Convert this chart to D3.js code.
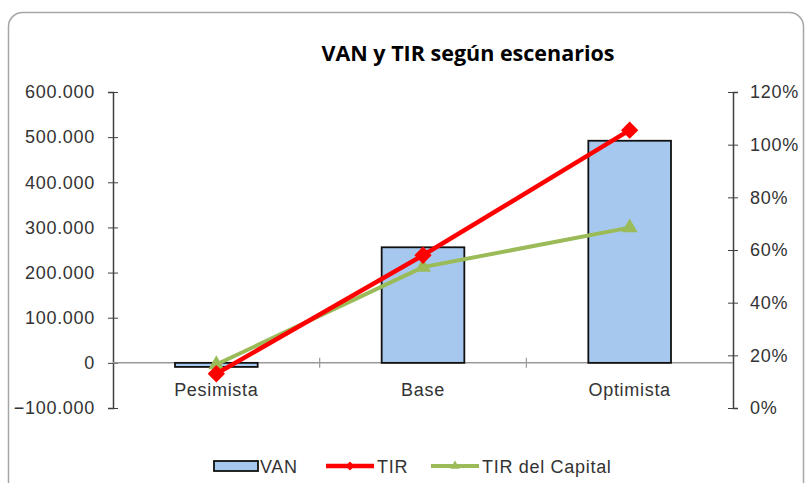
<!DOCTYPE html>
<html>
<head>
<meta charset="utf-8">
<script src="https://cdn.jsdelivr.net/npm/d3@7"></script>
<style>
  body { margin: 0; background: #fff; }
  svg { display: block; }
</style>
</head>
<body>
<script>
// data
var categories = ['Pesimista', 'Base', 'Optimista'];
var van = [-9000, 256000, 492000];
var tir = [0.13, 0.58, 1.055];
var tirCapital = [0.165, 0.535, 0.685];
var leftTicks = [-100000, 0, 100000, 200000, 300000, 400000, 500000, 600000];
var rightTicks = [0, 0.2, 0.4, 0.6, 0.8, 1.0, 1.2];

(function() {

  var width = 807, height = 483;
  var plotLeft = 113, plotRight = 733, plotTop = 92, plotBottom = 408;

  var labelFont = '"Liberation Sans", Arial, sans-serif';
  var labelSize = '18px';
  var labelSpacing = '0.7px';
  var labelColor = '#333';

  function styleLabel(sel) {
    sel.style('font-family', labelFont)
      .style('font-size', labelSize)
      .style('letter-spacing', labelSpacing)
      .style('fill', labelColor);
  }

  var svg = d3.select('body').append('svg')
    .attr('width', width).attr('height', height);

  // chart border
  svg.append('rect')
    .attr('x', 8.5).attr('y', 12.5)
    .attr('width', 795).attr('height', 500)
    .attr('rx', 14)
    .attr('fill', '#fff')
    .attr('stroke', '#a6a6a6')
    .attr('stroke-width', 1.5);

  svg.append('text')
    .attr('x', 468).attr('y', 61)
    .attr('text-anchor', 'middle')
    .style('font-family', '"Open Sans", Lato, sans-serif')
    .style('font-weight', 'bold')
    .style('font-size', '21.5px')
    .style('fill', '#000')
    .text('VAN y TIR según escenarios');

  var x = d3.scaleBand().domain(categories).range([plotLeft, plotRight])
    .paddingInner(0.6).paddingOuter(0.3);
  var yL = d3.scaleLinear().domain([-100000, 600000]).range([plotBottom, plotTop]);
  var yR = d3.scaleLinear().domain([0, 1.2]).range([plotBottom, plotTop]);

  var fmtL = function(d) {
    return d3.format(',')(d).replace(/,/g, '.');
  };
  var fmtR = d3.format('.0%');

  // left axis
  var gL = svg.append('g').attr('transform', 'translate(' + plotLeft + ',0)')
    .call(d3.axisLeft(yL).tickValues(leftTicks).tickFormat(fmtL).tickSize(5).tickPadding(13));
  gL.select('.domain').attr('stroke', '#404040').attr('stroke-width', 1.5);
  gL.selectAll('.tick line').attr('x1', 5).attr('x2', -5).attr('stroke', '#404040');
  gL.selectAll('text').call(styleLabel);

  // right axis
  var gR = svg.append('g').attr('transform', 'translate(' + plotRight + ',0)')
    .call(d3.axisRight(yR).tickValues(rightTicks).tickFormat(fmtR).tickSize(5).tickPadding(12));
  gR.select('.domain').attr('stroke', '#404040').attr('stroke-width', 1.5);
  gR.selectAll('.tick line').attr('x1', -5).attr('x2', 5).attr('stroke', '#404040');
  gR.selectAll('text').call(styleLabel);

  // category axis at zero
  var y0 = yL(0);
  svg.append('line')
    .attr('x1', plotLeft).attr('x2', plotRight).attr('y1', y0).attr('y2', y0)
    .attr('stroke', '#999').attr('stroke-width', 1.5);
  var step = x.step();
  svg.selectAll('.catTick').data(categories.slice(1)).enter().append('line')
    .attr('x1', function(d) { return x(d) - x.paddingInner() * step / 2; })
    .attr('x2', function(d) { return x(d) - x.paddingInner() * step / 2; })
    .attr('y1', y0 - 5).attr('y2', y0 + 5)
    .attr('stroke', '#999').attr('stroke-width', 1.2);
  svg.selectAll('.catLabel').data(categories).enter().append('text')
    .attr('x', function(d) { return x(d) + x.bandwidth() / 2; })
    .attr('y', y0 + 33)
    .attr('text-anchor', 'middle')
    .call(styleLabel)
    .text(function(d) { return d; });

  // bars
  svg.selectAll('.bar').data(van).enter().append('rect')
    .attr('x', function(d, i) { return x(categories[i]); })
    .attr('y', function(d) { return yL(Math.max(0, d)); })
    .attr('width', x.bandwidth())
    .attr('height', function(d) { return Math.abs(yL(d) - yL(0)); })
    .attr('fill', '#a7c8ee')
    .attr('stroke', '#111')
    .attr('stroke-width', 1.8);

  function cx(i) { return x(categories[i]) + x.bandwidth() / 2; }

  var line = d3.line()
    .x(function(d, i) { return cx(i); })
    .y(function(d) { return yR(d); });

  // TIR del Capital
  svg.append('path').datum(tirCapital)
    .attr('d', line).attr('fill', 'none')
    .attr('stroke', '#9bbb59').attr('stroke-width', 4);
  svg.selectAll('.tri').data(tirCapital).enter().append('path')
    .attr('d', d3.symbol().type(d3.symbolTriangle).size(110))
    .attr('transform', function(d, i) { return 'translate(' + cx(i) + ',' + yR(d) + ')'; })
    .attr('fill', '#9bbb59');

  // TIR
  svg.append('path').datum(tir)
    .attr('d', line).attr('fill', 'none')
    .attr('stroke', '#ff0000').attr('stroke-width', 4.5);
  svg.selectAll('.dia').data(tir).enter().append('path')
    .attr('d', d3.symbol().type(d3.symbolSquare).size(150))
    .attr('transform', function(d, i) { return 'translate(' + cx(i) + ',' + yR(d) + ') rotate(45)'; })
    .attr('fill', '#ff0000');

  // legend
  var ly = 466;
  var lg = svg.append('g');
  lg.append('rect').attr('x', 214).attr('y', ly - 5).attr('width', 44).attr('height', 10)
    .attr('fill', '#a7c8ee').attr('stroke', '#111').attr('stroke-width', 1.8);
  lg.append('text').attr('x', 260).attr('y', ly + 7).call(styleLabel).text('VAN');

  lg.append('line').attr('x1', 326).attr('x2', 374).attr('y1', ly).attr('y2', ly)
    .attr('stroke', '#ff0000').attr('stroke-width', 4.5);
  lg.append('path').attr('d', d3.symbol().type(d3.symbolSquare).size(40))
    .attr('transform', 'translate(350,' + ly + ') rotate(45)').attr('fill', '#ff0000');
  lg.append('text').attr('x', 377).attr('y', ly + 7).call(styleLabel).text('TIR');

  lg.append('line').attr('x1', 431).attr('x2', 479).attr('y1', ly).attr('y2', ly)
    .attr('stroke', '#9bbb59').attr('stroke-width', 4);
  lg.append('path').attr('d', d3.symbol().type(d3.symbolTriangle).size(40))
    .attr('transform', 'translate(455,' + ly + ')').attr('fill', '#9bbb59');
  lg.append('text').attr('x', 482).attr('y', ly + 7).call(styleLabel).text('TIR del Capital');

})();
</script>
</body>
</html>
